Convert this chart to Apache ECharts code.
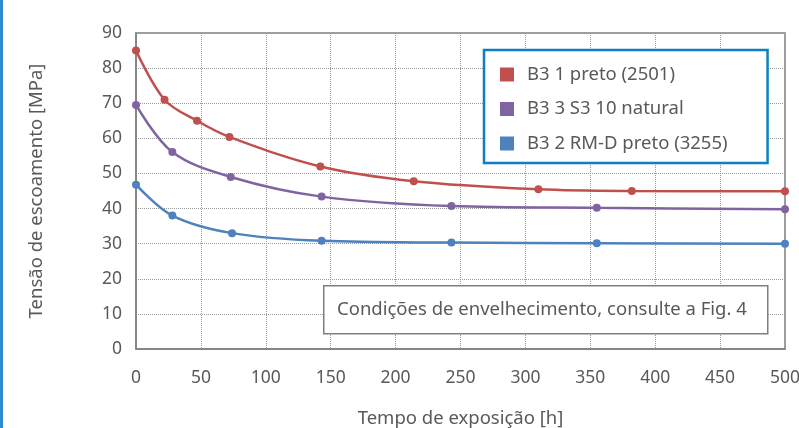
<!DOCTYPE html>
<html lang="pt">

<head>
    <title>Tensão de escoamento</title>
    <meta charset="UTF-8">
    <style type="text/css">
        html,
        body {
            margin: 0px;
            width: 100%;
            height: 100%;
            background: #ffffff;
        }
    </style>
    <script type="text/javascript" src="https://cdn.jsdelivr.net/npm/echarts@6/dist/echarts.min.js"></script>
</head>

<body>
    <div id="chart" style="width: 799px; height: 428px;"></div>
</body>

<script type="text/javascript">
    // values
    var seriesNames = ['B3 1 preto (2501)', 'B3 3 S3 10 natural', 'B3 2 RM-D preto (3255)'];
    var seriesColors = ['#C0504D', '#8064A2', '#4F81BD'];

    var redHours = [0, 22, 47, 72, 142, 214, 310, 382, 500];
    var redValues = [85, 71, 65, 60.4, 52, 47.8, 45.5, 45, 44.9];

    var purpleHours = [0, 28, 73, 143, 243, 355, 500];
    var purpleValues = [69.5, 56.1, 49, 43.4, 40.7, 40.2, 39.8];

    var blueHours = [0, 28, 74, 143, 243, 355, 500];
    var blueValues = [46.8, 38, 33, 30.8, 30.3, 30.1, 30];

    var xTicks = { min: 0, max: 500, interval: 50 };
    var yTicks = { min: 0, max: 90, interval: 10 };

    var noteText = 'Condições de envelhecimento, consulte a Fig. 4';

    function pairs(xs, ys) {
        var out = [];
        for (var i = 0; i < xs.length; i++) out.push([xs[i], ys[i]]);
        return out;
    }

    var allData = [
        pairs(redHours, redValues),
        pairs(purpleHours, purpleValues),
        pairs(blueHours, blueValues)
    ];

    var font = 'Noto Sans';
    var textColor = '#595959';

    var series = [];
    for (var i = 0; i < seriesNames.length; i++) {
        series.push({
            name: seriesNames[i],
            type: 'line',
            data: allData[i],
            smooth: 0.35,
            symbol: 'circle',
            symbolSize: 8,
            itemStyle: { color: seriesColors[i] },
            lineStyle: { color: seriesColors[i], width: 2.5 },
            z: 3
        });
    }

    var chart = echarts.init(document.getElementById('chart'));
    chart.setOption({
        animation: false,
        textStyle: { fontFamily: font },
        grid: {
            left: 136,
            right: 14,
            top: 33,
            bottom: 79,
            outerBoundsMode: 'none',
            containLabel: false,
            show: true,
            borderColor: '#808080',
            borderWidth: 1.5
        },
        legend: {
            orient: 'vertical',
            left: 484,
            top: 50,
            icon: 'rect',
            itemWidth: 14,
            itemHeight: 14,
            itemGap: 15.5,
            padding: [15, 40, 10, 16],
            backgroundColor: '#ffffff',
            borderColor: '#0E7FC0',
            borderWidth: 2.5,
            textStyle: { fontFamily: font, fontSize: 18.5, color: textColor, padding: [0, 0, 0, 8] },
            data: seriesNames
        },
        xAxis: {
            type: 'value',
            min: xTicks.min,
            max: xTicks.max,
            interval: xTicks.interval,
            name: 'Tempo de exposição [h]',
            nameLocation: 'middle',
            nameGap: 60,
            nameTextStyle: { fontFamily: font, fontSize: 18.5, color: textColor },
            axisLine: { show: true, lineStyle: { color: '#808080', width: 1.5 } },
            axisTick: { show: false },
            axisLabel: { fontFamily: font, fontSize: 17.5, color: textColor, margin: 20 },
            splitLine: { show: true, lineStyle: { type: 'dotted', color: '#9a9a9a', width: 1 } }
        },
        yAxis: {
            type: 'value',
            min: yTicks.min,
            max: yTicks.max,
            interval: yTicks.interval,
            name: 'Tensão de escoamento [MPa]',
            nameLocation: 'middle',
            nameGap: 90,
            nameTextStyle: { fontFamily: font, fontSize: 18.5, color: textColor },
            axisLine: { show: true, lineStyle: { color: '#808080', width: 1.5 } },
            axisTick: { show: false },
            axisLabel: { fontFamily: font, fontSize: 17.5, color: textColor, margin: 14 },
            splitLine: { show: true, lineStyle: { type: 'dotted', color: '#9a9a9a', width: 1 } }
        },
        graphic: [
            {
                type: 'rect',
                left: 0,
                top: 0,
                shape: { width: 3, height: 428 },
                style: { fill: '#2E8BCF' }
            },
            {
                type: 'rect',
                left: 323,
                top: 285,
                z: 10,
                shape: { width: 444, height: 48 },
                style: { fill: '#ffffff', stroke: '#7f7f7f', lineWidth: 1.5 }
            },
            {
                type: 'text',
                left: 337,
                top: 300,
                z: 11,
                style: { text: noteText, fontFamily: font, fontSize: 18.5, fill: textColor }
            }
        ],
        series: series
    });
</script>

</html>
